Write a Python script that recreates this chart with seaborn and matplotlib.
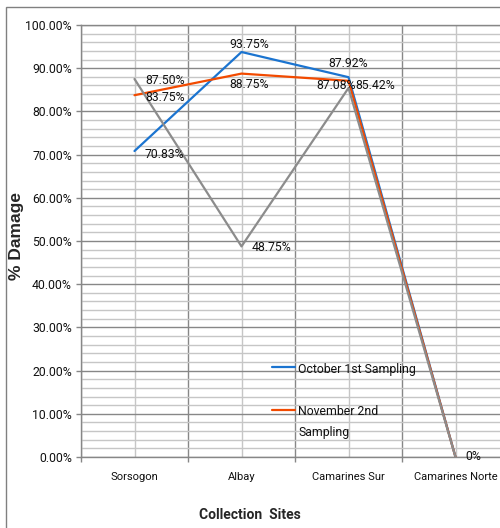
import matplotlib
matplotlib.use("Agg")
import matplotlib.pyplot as plt
import seaborn as sns
import pandas as pd
import numpy as np
from matplotlib.patches import Rectangle
from matplotlib.lines import Line2D
from matplotlib.ticker import MultipleLocator, FixedLocator

sites = ["Sorsogon", "Albay", "Camarines Sur", "Camarines Norte"]
october = [70.83, 93.75, 87.92, 0.0]
november = [83.75, 88.75, 87.08, 0.0]
third = [87.50, 48.75, 85.42, 0.0]
series_names = ["October 1st Sampling", "November 2nd\nSampling", "Third Sampling"]
colors = ["#1B74D0", "#F24A00", "#8C8C8C"]

sns.set_theme(style="white")
plt.rcParams["font.family"] = ["Roboto", "Liberation Sans", "DejaVu Sans"]

fig = plt.figure(figsize=(5.0, 5.28), dpi=100)
ax = fig.add_axes([81 / 500, 71 / 528, 428 / 500, 432 / 528])

df = pd.DataFrame({
    "site": sites * 3,
    "value": october + november + third,
    "series": [series_names[0]] * 4 + [series_names[1]] * 4 + [series_names[2]] * 4,
})
for name, col in zip(series_names, colors):
    sub = df[df["series"] == name]
    sns.lineplot(data=sub, x="site", y="value", color=col, linewidth=1.6,
                 sort=False, ax=ax, legend=False, zorder=3)

ax.set_xlim(-0.5, 3.5)
ax.set_ylim(0, 100)

major_c = "#878787"
minor_c = "#C6C6C6"
ax.yaxis.set_minor_locator(MultipleLocator(2))
ax.set_yticks(np.arange(0, 101, 10))
ax.set_yticklabels([f"{v:.2f}%" for v in np.arange(0, 101, 10)])
ax.set_xticks([0, 1, 2, 3])
ax.set_xticklabels(sites)
ax.xaxis.set_minor_locator(FixedLocator([-0.5, 0.5, 1.5, 2.5, 3.5]))

ax.grid(which="minor", axis="y", color=minor_c, linewidth=1.0)
ax.grid(which="major", axis="y", color=major_c, linewidth=1.0)
ax.grid(which="major", axis="x", color=minor_c, linewidth=1.0)
ax.grid(which="minor", axis="x", color=major_c, linewidth=1.0)
ax.set_axisbelow(True)

ax.tick_params(axis="y", which="major", length=3.6, width=1, color=major_c,
               direction="out", pad=3, labelsize=8.8, labelcolor="#111111", left=True)
ax.tick_params(axis="y", which="minor", length=0)
ax.tick_params(axis="x", which="major", length=0, pad=11, labelsize=8.0, labelcolor="#111111")
ax.tick_params(axis="x", which="minor", length=3.6, width=1, color=major_c, direction="out", bottom=True)

for s in ["left", "bottom", "top"]:
    ax.spines[s].set_visible(True)
    ax.spines[s].set_color(major_c)
    ax.spines[s].set_linewidth(1.0)
ax.spines["right"].set_visible(False)

ax.set_xlabel("")
ax.set_ylabel("")
fig.text(250 / 500, 1 - 515 / 528, "Collection  Sites", ha="center", va="center",
         fontsize=10, fontweight="bold", family=["Roboto", "Liberation Sans", "DejaVu Sans"])
fig.text(17 / 500, 1 - 236 / 528, "% Damage", ha="center", va="center", rotation=90,
         fontsize=12.5, fontweight="bold", family=["Liberation Sans", "DejaVu Sans"])

# data labels: (series values, index, offset px, ha)
label_specs = [
    (october, 0, (10, -3), "left"),
    (october, 1, (8, 7), "center"),
    (october, 2, (0, 14), "center"),
    (november, 0, (11, -2), "left"),
    (november, 1, (8, -11), "center"),
    (november, 2, (7, -5), "right"),
    (third, 0, (11, -1), "left"),
    (third, 1, (10, -1), "left"),
    (third, 2, (7, 2), "left"),
]
for vals, i, off, ha in label_specs:
    ax.annotate(f"{vals[i]:.2f}%", (i, vals[i]), xytext=off, textcoords="offset pixels",
                ha=ha, va="center", fontsize=8.8, color="#111111", zorder=5)
ax.annotate("0%", (3, third[3]), xytext=(10, 0), textcoords="offset pixels",
            ha="left", va="center", fontsize=8.8, color="#111111", zorder=5)

handles = [Line2D([], [], color=colors[0], linewidth=1.6),
           Line2D([], [], color=colors[1], linewidth=1.6)]
leg = ax.legend(handles, series_names[:2], loc="upper left",
                bbox_to_anchor=(272 / 500, 1 - 363 / 528), bbox_transform=fig.transFigure,
                frameon=False, fontsize=8.8, handlelength=1.9, handletextpad=0.25,
                labelspacing=2.4, borderpad=0, borderaxespad=0)
for t in leg.get_texts():
    t.set_linespacing(1.75)
    t.set_color("#111111")
try:
    for col in leg._legend_handle_box.get_children():
        for item in col.get_children():
            item.align = "top"
except Exception:
    pass

fig.patches.append(Rectangle((6 / 500, -0.2), 1.5, 1.2 - 7 / 528, transform=fig.transFigure,
                             fill=False, edgecolor="#808080", linewidth=1.0))

fig.savefig("out.png", dpi=100)
